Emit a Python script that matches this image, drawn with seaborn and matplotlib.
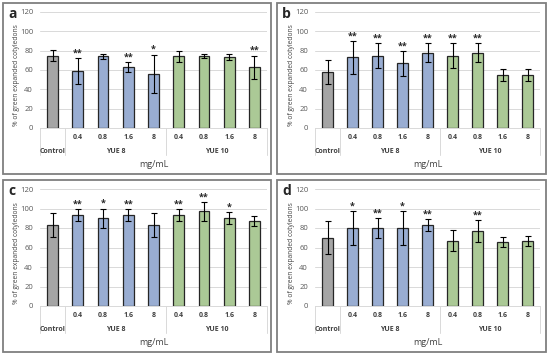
import numpy as np
import pandas as pd
import matplotlib.pyplot as plt
import seaborn as sns
from matplotlib.patches import Rectangle
from matplotlib.transforms import blended_transform_factory

# categories (control + two extracts at four doses)
cat_keys = ['Control', 'Y8_0.4', 'Y8_0.8', 'Y8_1.6', 'Y8_8',
            'Y10_0.4', 'Y10_0.8', 'Y10_1.6', 'Y10_8']
dose_labels = ['', '0.4', '0.8', '1.6', '8', '0.4', '0.8', '1.6', '8']
group_labels = ['Control', 'YUE 8', 'YUE 10']
group_sizes = [1, 4, 4]
bar_colors = ['#A5A5A5'] + ['#8FAADC'] * 4 + ['#A9D18E'] * 4

# panel values
a_mean = [75, 59, 74, 63, 56, 74, 74.5, 73.5, 63]
a_err = [6, 13, 3, 5, 20, 6, 2, 3, 12]
a_sig = ['', '**', '', '**', '*', '', '', '', '**']

b_mean = [58, 73, 75, 67, 78, 75, 78, 55, 55]
b_err = [12, 17, 13, 13, 10, 13, 10, 6, 6]
b_sig = ['', '**', '**', '**', '**', '**', '**', '', '']

c_mean = [83, 93, 90, 93, 83, 93, 97, 90, 87]
c_err = [12, 6, 10, 6, 12, 6, 10, 6, 5]
c_sig = ['', '**', '*', '**', '', '**', '**', '*', '']

d_mean = [70, 80, 80, 80, 83, 67, 77, 66, 67]
d_err = [17, 17, 10, 17, 6, 11, 11, 5, 5]
d_sig = ['', '*', '**', '*', '**', '', '**', '', '']

sns.set_theme(style='white')
plt.rcParams['font.family'] = ['Open Sans', 'DejaVu Sans']

W, H = 550, 356
fig = plt.figure(figsize=(W / 100, H / 100), dpi=100)


def px_rect(x0, y0, x1, y1):
    return [x0 / W, 1 - y1 / H, (x1 - x0) / W, (y1 - y0) / H]


def draw_panel(letter, frame, axbox, means, errs, sigs):
    fig.patches.append(Rectangle((frame[0] / W, 1 - frame[3] / H),
                                 (frame[2] - frame[0]) / W, (frame[3] - frame[1]) / H,
                                 transform=fig.transFigure, fill=False,
                                 edgecolor='#7F7F7F', lw=1.3))
    fig.text((frame[0] + 5) / W, 1 - (frame[1] + 11) / H, letter,
             fontsize=10, fontweight='bold', va='center', ha='left')

    ax = fig.add_axes(px_rect(*axbox))
    df = pd.DataFrame({'cat': cat_keys, 'val': means})
    sns.barplot(data=df, x='cat', y='val', hue='cat', order=cat_keys,
                palette=bar_colors, legend=False, width=0.43,
                edgecolor='#262626', linewidth=0.9, ax=ax)
    xs = np.arange(len(cat_keys))
    ax.errorbar(xs, means, yerr=errs, fmt='none', ecolor='black',
                elinewidth=0.8, capsize=2, capthick=0.8, zorder=5)
    for x, m, e, s in zip(xs, means, errs, sigs):
        if s:
            ax.text(x, m + e + 0.5, s, ha='center', va='bottom',
                    fontsize=6.5, fontweight='bold', color='#262626')

    ax.set_ylim(0, 120)
    ax.set_yticks(range(0, 121, 20))
    ax.set_xlim(-0.5, len(cat_keys) - 0.5)
    ax.yaxis.grid(True, color='#D9D9D9', lw=0.7)
    ax.set_axisbelow(True)
    for sp in ['top', 'right', 'left']:
        ax.spines[sp].set_visible(False)
    ax.spines['bottom'].set_color('#D9D9D9')
    ax.spines['bottom'].set_linewidth(0.7)
    ax.tick_params(axis='y', labelsize=5.5, labelcolor='#595959', length=0, pad=5)
    ax.set_xticks(xs)
    ax.set_xticklabels(dose_labels, fontsize=5, fontweight='bold', color='#404040')
    ax.tick_params(axis='x', length=0, pad=4)
    ax.set_xlabel('mg/mL', fontsize=6.5, color='#404040', labelpad=14)
    ax.set_ylabel('% of green expanded cotyledons', fontsize=4.8, color='#404040')
    ax.yaxis.set_label_coords(-0.09, 0.455)

    trans = blended_transform_factory(ax.transData, ax.transAxes)
    edges = np.concatenate([[0], np.cumsum(group_sizes)]) - 0.5
    for e in edges:
        ax.plot([e, e], [0, -0.235], transform=trans, color='#D9D9D9',
                lw=0.7, clip_on=False)
    for lab, lo, hi in zip(group_labels, edges[:-1], edges[1:]):
        ax.text((lo + hi) / 2, -0.2, lab, transform=trans, ha='center', va='center',
                fontsize=5, fontweight='bold', color='#404040')
    return ax


draw_panel('a', (3, 3, 271, 174), (40, 12, 267, 128), a_mean, a_err, a_sig)
draw_panel('b', (277, 3, 546, 174), (315, 12, 540, 128), b_mean, b_err, b_sig)
draw_panel('c', (3, 180, 271, 352), (40, 189, 267, 306), c_mean, c_err, c_sig)
draw_panel('d', (277, 180, 546, 352), (315, 189, 540, 306), d_mean, d_err, d_sig)

fig.savefig('out.png', dpi=100)
